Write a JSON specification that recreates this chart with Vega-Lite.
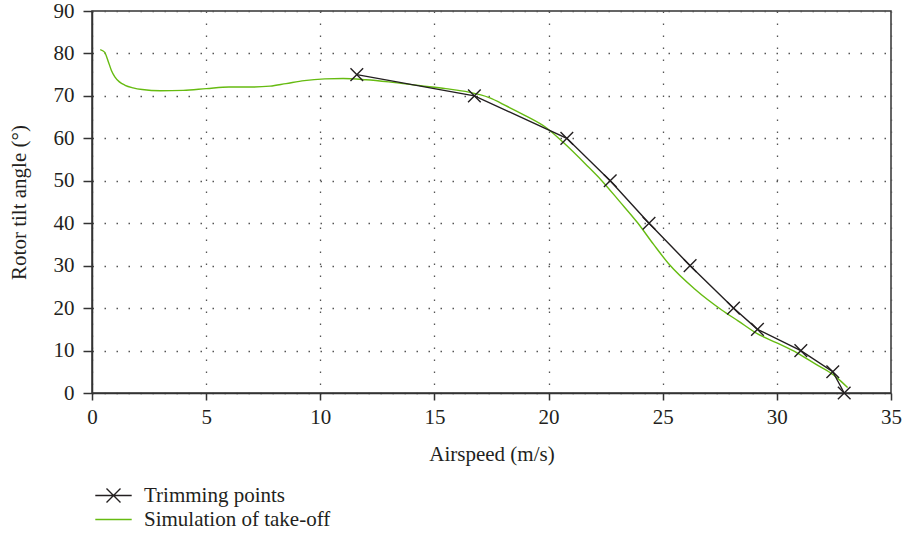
{
  "$schema": "https://vega.github.io/schema/vega-lite/v6.json",
  "width": 799,
  "height": 382,
  "autosize": "none",
  "padding": {"left": 92, "top": 11, "right": 12, "bottom": 151},
  "background": "white",
  "config": {
    "font": "Liberation Serif",
    "view": {"stroke": "#333333", "strokeWidth": 1.5},
    "axis": {
      "labelFont": "Liberation Serif",
      "labelFontSize": 21,
      "labelColor": "#231f20",
      "titleFont": "Liberation Serif",
      "titleFontSize": 21,
      "titleFontWeight": "normal",
      "titleColor": "#231f20",
      "domainColor": "#333333",
      "domainWidth": 1.5,
      "tickColor": "#333333",
      "tickWidth": 1.5,
      "gridColor": "#555555",
      "gridDash": [1.5, 10.5],
      "gridWidth": 1.3,
      "gridOpacity": 1
    }
  },
  "datasets": {
    "trim": [
      {"series": "Trimming points", "x": 11.6, "y": 75},
      {"series": "Trimming points", "x": 16.75, "y": 70},
      {"series": "Trimming points", "x": 20.8, "y": 60},
      {"series": "Trimming points", "x": 22.7, "y": 50},
      {"series": "Trimming points", "x": 24.4, "y": 40},
      {"series": "Trimming points", "x": 26.2, "y": 30},
      {"series": "Trimming points", "x": 28.1, "y": 20},
      {"series": "Trimming points", "x": 29.15, "y": 15},
      {"series": "Trimming points", "x": 31.05, "y": 10},
      {"series": "Trimming points", "x": 32.45, "y": 5},
      {"series": "Trimming points", "x": 32.95, "y": 0}
    ],
    "sim": [
      {"series": "Simulation of take-off", "x": 0.36, "y": 80.9},
      {"series": "Simulation of take-off", "x": 0.55, "y": 80.3},
      {"series": "Simulation of take-off", "x": 0.7, "y": 78.3},
      {"series": "Simulation of take-off", "x": 0.85, "y": 76.0},
      {"series": "Simulation of take-off", "x": 1.0, "y": 74.5},
      {"series": "Simulation of take-off", "x": 1.2, "y": 73.3},
      {"series": "Simulation of take-off", "x": 1.45, "y": 72.5},
      {"series": "Simulation of take-off", "x": 1.8, "y": 71.9},
      {"series": "Simulation of take-off", "x": 2.2, "y": 71.5},
      {"series": "Simulation of take-off", "x": 3.0, "y": 71.2},
      {"series": "Simulation of take-off", "x": 4.0, "y": 71.3},
      {"series": "Simulation of take-off", "x": 5.0, "y": 71.7},
      {"series": "Simulation of take-off", "x": 6.0, "y": 72.1},
      {"series": "Simulation of take-off", "x": 7.0, "y": 72.1},
      {"series": "Simulation of take-off", "x": 7.8, "y": 72.3},
      {"series": "Simulation of take-off", "x": 8.5, "y": 72.9},
      {"series": "Simulation of take-off", "x": 9.3, "y": 73.6},
      {"series": "Simulation of take-off", "x": 10.2, "y": 74.0},
      {"series": "Simulation of take-off", "x": 11.0, "y": 74.1},
      {"series": "Simulation of take-off", "x": 12.0, "y": 73.8},
      {"series": "Simulation of take-off", "x": 13.0, "y": 73.3},
      {"series": "Simulation of take-off", "x": 14.4, "y": 72.4},
      {"series": "Simulation of take-off", "x": 15.5, "y": 71.7},
      {"series": "Simulation of take-off", "x": 16.5, "y": 70.9},
      {"series": "Simulation of take-off", "x": 17.4, "y": 69.6},
      {"series": "Simulation of take-off", "x": 18.2, "y": 67.5},
      {"series": "Simulation of take-off", "x": 19.0, "y": 65.3},
      {"series": "Simulation of take-off", "x": 19.9, "y": 62.5},
      {"series": "Simulation of take-off", "x": 20.65, "y": 59.0},
      {"series": "Simulation of take-off", "x": 21.7, "y": 53.5},
      {"series": "Simulation of take-off", "x": 22.3, "y": 50.2},
      {"series": "Simulation of take-off", "x": 23.1, "y": 45.2},
      {"series": "Simulation of take-off", "x": 23.9, "y": 40.1},
      {"series": "Simulation of take-off", "x": 24.6, "y": 35.0},
      {"series": "Simulation of take-off", "x": 25.3, "y": 30.2},
      {"series": "Simulation of take-off", "x": 26.4, "y": 24.5},
      {"series": "Simulation of take-off", "x": 27.6, "y": 19.5},
      {"series": "Simulation of take-off", "x": 28.3, "y": 17.0},
      {"series": "Simulation of take-off", "x": 29.1, "y": 14.1},
      {"series": "Simulation of take-off", "x": 30.0, "y": 11.8},
      {"series": "Simulation of take-off", "x": 30.9, "y": 9.4},
      {"series": "Simulation of take-off", "x": 31.7, "y": 6.8},
      {"series": "Simulation of take-off", "x": 32.5, "y": 4.2},
      {"series": "Simulation of take-off", "x": 32.8, "y": 2.8},
      {"series": "Simulation of take-off", "x": 33.1, "y": 1.3}
    ]
  },
  "encoding": {
    "x": {
      "field": "x", "type": "quantitative",
      "scale": {"domain": [0, 35], "nice": false},
      "axis": {"title": "Airspeed (m/s)", "values": [0, 5, 10, 15, 20, 25, 30, 35], "tickSize": 7, "labelPadding": 6, "titlePadding": 16, "labelFlush": false}
    },
    "y": {
      "field": "y", "type": "quantitative",
      "scale": {"domain": [0, 90], "nice": false},
      "axis": {"title": "Rotor tilt angle (°)", "values": [0, 10, 20, 30, 40, 50, 60, 70, 80, 90], "tickSize": 9, "labelPadding": 9, "titlePadding": 24, "labelFlush": false}
    },
    "color": {
      "field": "series", "type": "nominal",
      "scale": {"domain": ["Trimming points", "Simulation of take-off"], "range": ["#231f20", "#66bb11"]},
      "legend": {
        "title": null,
        "orient": "none",
        "legendX": 11,
        "legendY": 474,
        "labelFont": "Liberation Serif",
        "labelFontSize": 21,
        "labelLimit": 0,
        "labelColor": "#231f20",
        "labelOffset": 20,
        "symbolSize": 196,
        "symbolStrokeWidth": 1.4,
        "rowPadding": 2,
        "encode": {
          "symbols": {
            "update": {
              "shape": {"signal": "datum.value === 'Trimming points' ? 'M-2.6,0H2.6M-1,-1L1,1M-1,1L1,-1' : 'M-2.6,0H2.6'"},
              "fill": {"value": "transparent"}
            }
          }
        }
      }
    }
  },
  "layer": [
    {
      "data": {"name": "sim"},
      "mark": {"type": "line", "strokeWidth": 1.4, "interpolate": "monotone"}
    },
    {
      "data": {"name": "trim"},
      "mark": {"type": "line", "strokeWidth": 1.4, "interpolate": "linear"}
    },
    {
      "data": {"name": "trim"},
      "mark": {"type": "point", "shape": "M-1,-1L1,1M-1,1L1,-1", "filled": false, "stroke": "#231f20", "strokeWidth": 1.4, "size": 160, "opacity": 1},
      "encoding": {"color": {"value": "#231f20"}}
    }
  ]
}
